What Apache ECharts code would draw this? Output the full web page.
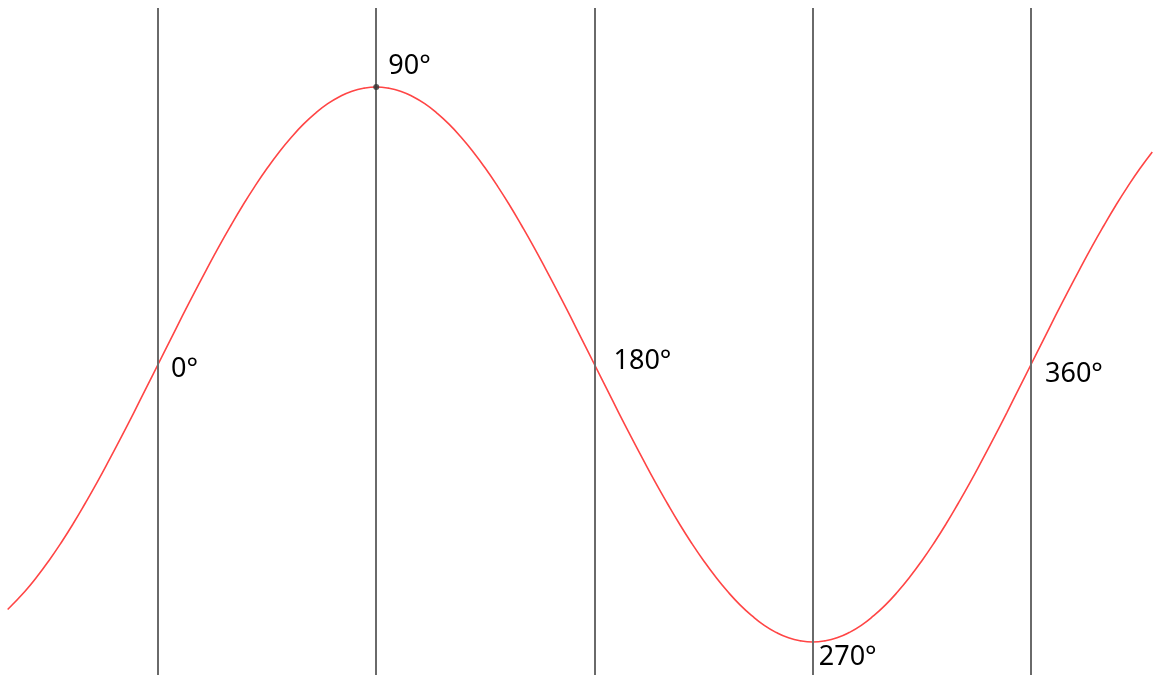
<!DOCTYPE html>
<html>
<head>
<meta charset="utf-8">
<script src="https://cdn.jsdelivr.net/npm/echarts@6/dist/echarts.min.js"></script>
<style>html,body{margin:0;padding:0;background:#fff}#c{width:1153px;height:677px}</style>
</head>
<body>
<div id="c"></div>
<script>
var angles = [-62,-55,-50,-45,-40,-35,-30,-25,-20,-15,-10,-5,
  0,5,10,15,20,25,30,35,40,45,50,55,60,65,70,75,80,85,
  90,95,100,105,110,115,120,125,130,135,140,145,150,155,160,165,170,175,
  180,185,190,195,200,205,210,215,220,225,230,235,240,245,250,255,260,265,
  270,275,280,285,290,295,300,305,310,315,320,325,330,335,340,345,350,355,
  360,365,370,375,380,385,390,395,400,405,410];
var values = [-0.883,-0.819,-0.766,-0.707,-0.643,-0.574,-0.5,-0.423,-0.342,-0.259,-0.174,-0.087,
  0,0.087,0.174,0.259,0.342,0.423,0.5,0.574,0.643,0.707,0.766,0.819,0.866,0.906,0.94,0.966,0.985,0.996,
  1,0.996,0.985,0.966,0.94,0.906,0.866,0.819,0.766,0.707,0.643,0.574,0.5,0.423,0.342,0.259,0.174,0.087,
  0,-0.087,-0.174,-0.259,-0.342,-0.423,-0.5,-0.574,-0.643,-0.707,-0.766,-0.819,-0.866,-0.906,-0.94,-0.966,-0.985,-0.996,
  -1,-0.996,-0.985,-0.966,-0.94,-0.906,-0.866,-0.819,-0.766,-0.707,-0.643,-0.574,-0.5,-0.423,-0.342,-0.259,-0.174,-0.087,
  0,0.087,0.174,0.259,0.342,0.423,0.5,0.574,0.643,0.707,0.766];
var markAngles = [0,90,180,270,360];
var markValues = [0,1,0,-1,0];
var markLabels = ['0°','90°','180°','270°','360°'];

var labelOffsets = [[13,5],[9,-21],[19,-3],[6,15],[14,10]];
var chart = echarts.init(document.getElementById('c'));
chart.setOption({
  animation:false,
  grid:{left:0,right:0,top:8,bottom:2},
  xAxis:{type:'value',min:-65.15,max:410.3,show:false},
  yAxis:{type:'value',min:-1.1189,max:1.2847,show:false},
  series:[
    {type:'line',data:angles.map(function(a,i){return [a,values[i]];}),smooth:true,symbol:'none',
     lineStyle:{color:'#ff4545',width:1.6},
     markLine:{silent:true,symbol:'none',label:{show:false},
       lineStyle:{color:'#6a6a6a',width:2,type:'solid'},
       data:markAngles.map(function(a){return {xAxis:a};})}},
    {type:'scatter',z:5,
     data:markAngles.map(function(a,i){return {value:[a,markValues[i]],
        symbolSize:(a===90?6:0),
        label:{show:true,formatter:markLabels[i],position:'right',distance:0,offset:labelOffsets[i],color:'#000',fontSize:27,fontFamily:'Noto Sans',textBorderWidth:0,opacity:1}};}),
     itemStyle:{color:'#333'}}
  ]
});
</script>
</body>
</html>
